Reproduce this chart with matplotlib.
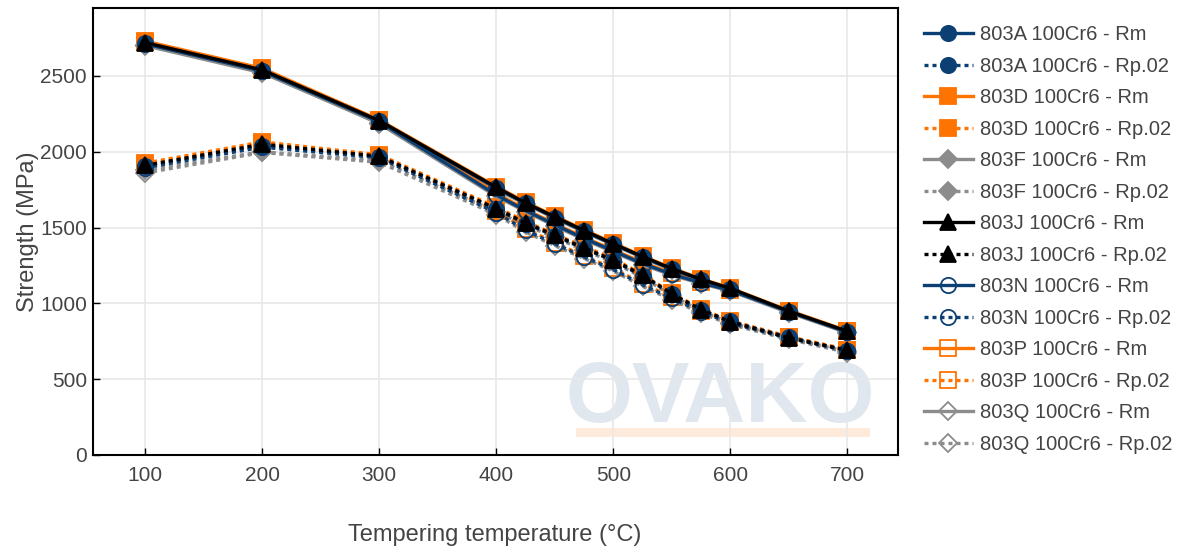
import matplotlib
matplotlib.use("Agg")
import matplotlib.pyplot as plt
from matplotlib.patches import Rectangle

plt.rcParams['font.family'] = ['Liberation Sans', 'DejaVu Sans']

# tempering temperature (C)
temps = [100, 200, 300, 400, 425, 450, 475, 500, 525, 550, 575, 600, 650, 700]

# strength values (MPa)
A_rm = [2715, 2535, 2200, 1760, 1660, 1565, 1475, 1390, 1305, 1225, 1155, 1095, 945, 812]
A_rp = [1905, 2040, 1965, 1620, 1525, 1445, 1360, 1280, 1180, 1060, 955, 880, 775, 688]
D_rm = [2730, 2550, 2210, 1770, 1668, 1575, 1485, 1398, 1312, 1232, 1162, 1100, 952, 818]
D_rp = [1925, 2065, 1980, 1635, 1540, 1455, 1375, 1295, 1190, 1068, 962, 885, 780, 695]
F_rm = [2700, 2520, 2190, 1750, 1655, 1560, 1470, 1385, 1300, 1220, 1150, 1090, 940, 808]
F_rp = [1880, 2000, 1940, 1605, 1515, 1435, 1350, 1270, 1170, 1052, 948, 872, 768, 682]
J_rm = [2720, 2540, 2205, 1765, 1662, 1570, 1480, 1392, 1308, 1228, 1158, 1098, 948, 815]
J_rp = [1910, 2050, 1970, 1625, 1530, 1450, 1365, 1285, 1185, 1062, 958, 878, 772, 690]
N_rm = [2712, 2532, 2198, 1715, 1612, 1518, 1428, 1345, 1262, 1192, 1135, 1085, 945, 810]
N_rp = [1895, 2030, 1960, 1598, 1482, 1392, 1305, 1222, 1122, 1032, 945, 868, 770, 685]
P_rm = [2725, 2545, 2208, 1725, 1620, 1525, 1435, 1352, 1270, 1198, 1140, 1090, 950, 815]
P_rp = [1915, 2055, 1975, 1610, 1492, 1400, 1312, 1230, 1130, 1040, 952, 875, 776, 692]
Q_rm = [2705, 2525, 2185, 1705, 1605, 1510, 1420, 1338, 1255, 1185, 1130, 1080, 938, 805]
Q_rp = [1860, 1995, 1930, 1585, 1470, 1380, 1295, 1212, 1112, 1022, 935, 860, 762, 675]

blue = '#0c3f73'
orange = '#ff7300'
grey = '#8c8c8c'
black = '#000000'

# name, rm, rp, colour, marker, filled, zorder
series = [
    ('803A', A_rm, A_rp, blue, 'o', True, 6),
    ('803D', D_rm, D_rp, orange, 's', True, 3),
    ('803F', F_rm, F_rp, grey, 'D', True, 2),
    ('803J', J_rm, J_rp, black, '^', True, 8),
    ('803N', N_rm, N_rp, blue, 'o', False, 7),
    ('803P', P_rm, P_rp, orange, 's', False, 4),
    ('803Q', Q_rm, Q_rp, grey, 'D', False, 5),
]

fig = plt.figure(figsize=(11.86, 5.54), dpi=100)
ax = fig.add_axes([0.078, 0.179, 0.679, 0.807])

# watermark
ax.text(0.78, 0.122, 'OVAKO', transform=ax.transAxes, ha='center', va='center',
        fontsize=62, fontweight='bold', color='#e0e7ef', zorder=0)
ax.add_patch(Rectangle((0.6, 0.04), 0.365, 0.02, transform=ax.transAxes,
                       color='#fdeadb', zorder=0, lw=0))

for name, rm, rp, col, mk, filled, z in series:
    ms = 11 if mk != 'D' else 9.5
    mfc = col if filled else 'none'
    ax.plot(temps, rm, color=col, lw=2.4, marker=mk, ms=ms, mfc=mfc, mec=col,
            mew=1.3, label=name + ' 100Cr6 - Rm', zorder=z)
    ax.plot(temps, rp, color=col, lw=2.4, ls=(0, (1.2, 1.2)), marker=mk, ms=ms,
            mfc=mfc, mec=col, mew=1.3, label=name + ' 100Cr6 - Rp.02', zorder=z)

ax.set_xlim(55, 743)
ax.set_ylim(0, 2950)
ax.set_xticks([100, 200, 300, 400, 500, 600, 700])
ax.set_yticks([0, 500, 1000, 1500, 2000, 2500])
ax.grid(True, color='#e8e8e8', lw=1.2)
ax.set_axisbelow(True)
for s in ax.spines.values():
    s.set_linewidth(1.5)
    s.set_color('black')
ax.tick_params(direction='in', length=5, width=1, colors='black',
               labelcolor='#444444', labelsize=15)
ax.tick_params(axis='x', pad=8)
ax.tick_params(axis='y', pad=4)
ax.set_xlabel('Tempering temperature (°C)', fontsize=17, color='#444444', labelpad=28)
ax.set_ylabel('Strength (MPa)', fontsize=17, color='#444444', labelpad=1)

fig.legend(loc='upper left', bbox_to_anchor=(0.764, 0.987), frameon=False,
           fontsize=14.5, handlelength=2.4, labelspacing=0.62, handletextpad=0.35,
           labelcolor='#444444')

fig.savefig('out.png', dpi=100)
